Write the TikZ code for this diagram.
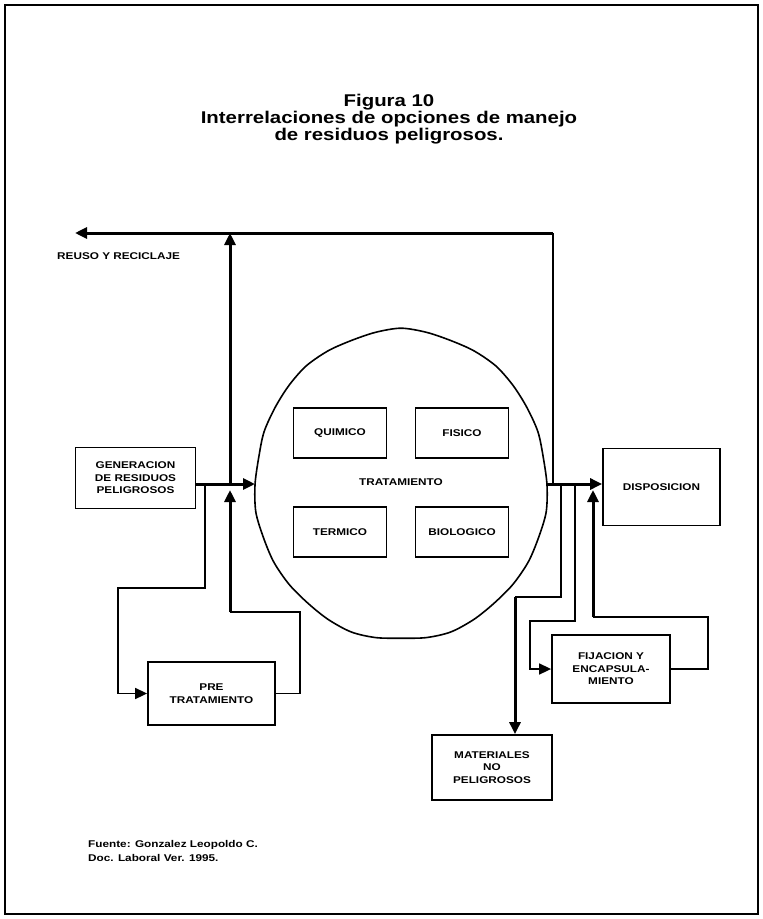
\documentclass[tikz,border=0pt]{standalone}
\usepackage{fontspec}
\setmainfont{Liberation Sans}[FakeStretch=1.2]
\usetikzlibrary{arrows.meta}
\begin{document}
\begin{tikzpicture}[x=1pt,y=-1pt,line join=miter,
  box/.style={draw,line width=1.8pt,inner sep=0pt,align=center,font=\bfseries\fontsize{9.8}{12.5}\selectfont},
  lbl/.style={inner sep=0pt,align=left,font=\bfseries\fontsize{9.8}{12.5}\selectfont},
  ttl/.style={inner sep=0pt,anchor=base,font=\bfseries\fontsize{17}{18}\selectfont},
  thinln/.style={line width=1.6pt},
  thickln/.style={line width=3pt},
  arr/.style={-{Triangle[length=12pt,width=11pt]}}]
\useasboundingbox (0,0) rectangle (763,919);
\draw[line width=1.2pt] (5,5) rectangle (758,914);
% title
\node[ttl] (t1) at (389,106) {Figura 10};
\node[ttl] (t2) at (389,123) {Interrelaciones de opciones de manejo};
\node[ttl] (t3) at (389,140) {de residuos peligrosos.};
% label top left
\node[lbl,anchor=base west] (reusotxt) at (57,259) {REUSO Y RECICLAJE};
% circle
\draw[line width=1.6pt] plot[smooth cycle,domain=0:350,samples=36,variable=\t]
  ({401+(146+1.0*sin(5*\t)+0.8*sin(13*\t))*cos(\t)},{485+(155+1.0*sin(7*\t)+0.8*sin(11*\t))*sin(\t)});
\node[lbl] (trat) at (401,482) {TRATAMIENTO};
\node[box,minimum width=93pt,minimum height=50pt] (qui) at (340,433) {QUIMICO};
\node[box,minimum width=93pt,minimum height=50pt] (fis) at (462,433) {FISICO};
\node[box,minimum width=93pt,minimum height=50pt] (ter) at (340,532) {TERMICO};
\node[box,minimum width=93pt,minimum height=50pt] (bio) at (462,532) {BIOLOGICO};
% boxes
\node[box,minimum width=120pt,minimum height=61pt] (gen) at (135.5,478) {GENERACION\\DE RESIDUOS\\PELIGROSOS};
\node[box,minimum width=117pt,minimum height=77pt] (disp) at (661.5,487) {DISPOSICION};
\node[box,minimum width=127pt,minimum height=63pt] (pre) at (211.5,693.5) {PRE\\TRATAMIENTO};
\node[box,minimum width=118pt,minimum height=68pt] (fij) at (611,669) {FIJACION Y\\ENCAPSULA-\\MIENTO};
\node[box,minimum width=120pt,minimum height=65pt] (mat) at (492,767.5) {MATERIALES\\NO\\PELIGROSOS};
% source
\node[lbl,anchor=base west] (src1) at (88,847) {Fuente: Gonzalez Leopoldo C.};
\node[lbl,anchor=base west] (src2) at (88,861) {Doc. Laboral Ver. 1995.};
% coordinates
\coordinate (cl) at (255,484);
\coordinate (cr) at (547,484);
\coordinate (reuso) at (75,233);
\coordinate (j1) at (553,484);
\coordinate (j2) at (230,484);
\coordinate (j2b) at (230,490);
\coordinate (j3) at (205,484);
\coordinate (l1) at (118,588);
\coordinate (r1) at (300,612);
\coordinate (j4) at (561,484);
\coordinate (k1) at (515,597);
\coordinate (j5) at (575,484);
\coordinate (k2) at (530,621);
\coordinate (k3) at (708,617);
\coordinate (j6) at (593,490);
% connectors left
\draw[thickln,arr] (gen.east |- cl) -- (cl);
\draw[thickln,arr] (j2) -- (j2 |- reuso);
\draw[thinln] (j1) -- (j1 |- reuso);
\draw[thickln,arr] (j1 |- reuso) -- (reuso);
\draw[thinln,arr] (j3) |- (l1) |- (pre.west);
\draw[thinln] (pre.east) -| (r1) -- (j2 |- r1);
\draw[thickln,arr] (j2 |- r1) -- (j2b);
% connectors right
\draw[thickln,arr] (cr) -- (disp.west |- cr);
\draw[thinln] (j4) |- (k1);
\draw[thickln,arr] (k1) -- (k1 |- mat.north);
\draw[thinln,arr] (j5) |- (k2) |- (fij.west);
\draw[thinln] (fij.east) -| (k3) -- (j6 |- k3);
\draw[thickln,arr] (j6 |- k3) -- (j6);
\end{tikzpicture}
\end{document}
